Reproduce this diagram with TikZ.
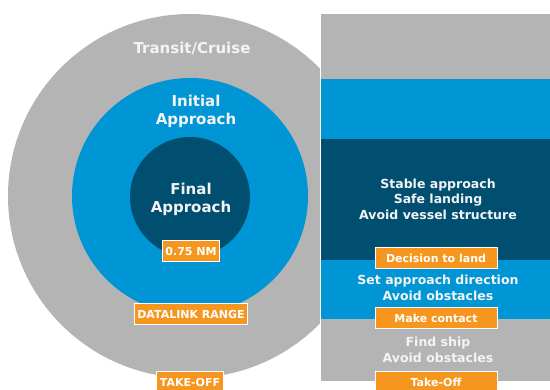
\documentclass[tikz,border=0pt]{standalone}
\usepackage{fontspec}
\setmainfont{DejaVu Sans}
\definecolor{cruisegray}{RGB}{180,180,180}
\definecolor{approachblue}{RGB}{0,149,212}
\definecolor{finalblue}{RGB}{0,79,113}
\definecolor{tagorange}{RGB}{247,150,30}
\definecolor{labelwhite}{RGB}{244,244,244}
\tikzset{
  zone/.style={font=\bfseries\fontsize{15}{18}\selectfont, text=labelwhite, align=center},
  task/.style={font=\bfseries\fontsize{12.5}{15.5}\selectfont, text=labelwhite, align=center},
  tag/.style={fill=tagorange, draw=white, line width=1pt, text=white,
    font=\bfseries\fontsize{11}{13}\selectfont, inner sep=3pt, minimum height=21pt},
  phase/.style={tag, minimum width=122pt}
}
\begin{document}
\begin{tikzpicture}[x=1pt,y=-1pt]
  \useasboundingbox (0,0) rectangle (550,390);
  \fill[white] (0,0) rectangle (550,390);
  % rings
  \fill[cruisegray] (190,196) circle (182);
  \fill[approachblue] (190,196) circle (118);
  \fill[finalblue] (190,197) circle (60);
  % bands
  \fill[cruisegray] (320,14) rectangle (551,79);
  \fill[approachblue] (320,79) rectangle (551,139);
  \fill[finalblue] (320,139) rectangle (551,260);
  \fill[approachblue] (320,260) rectangle (551,319);
  \fill[cruisegray] (320,319) rectangle (551,382);
  \draw[white, line width=1pt] (320,14) rectangle (551,382);

  \node[zone] (cruise) at (192,49) {Transit/Cruise};
  \node[zone] (initial) at (196,111) {Initial\\Approach};
  \node[zone] (final) at (191,199) {Final\\Approach};
  \node[tag] (nm) at (191,251) {0.75 NM};
  \node[tag] (datalink) at (191,314) {DATALINK RANGE};
  \node[tag] (takeoff) at (190,382.5) {TAKE-OFF};

  \node[task] (stable) at (438,199) {Stable approach\\Safe landing\\Avoid vessel structure};
  \node[task] (direction) at (438,288) {Set approach direction\\Avoid obstacles};
  \node[task] (findship) at (438,350) {Find ship\\Avoid obstacles};
  \node[phase] (decision) at (436,258) {Decision to land};
  \node[phase] (contact) at (436,318.5) {Make contact};
  \node[phase] (liftoff) at (436,382.5) {Take-Off};
\end{tikzpicture}
\end{document}
